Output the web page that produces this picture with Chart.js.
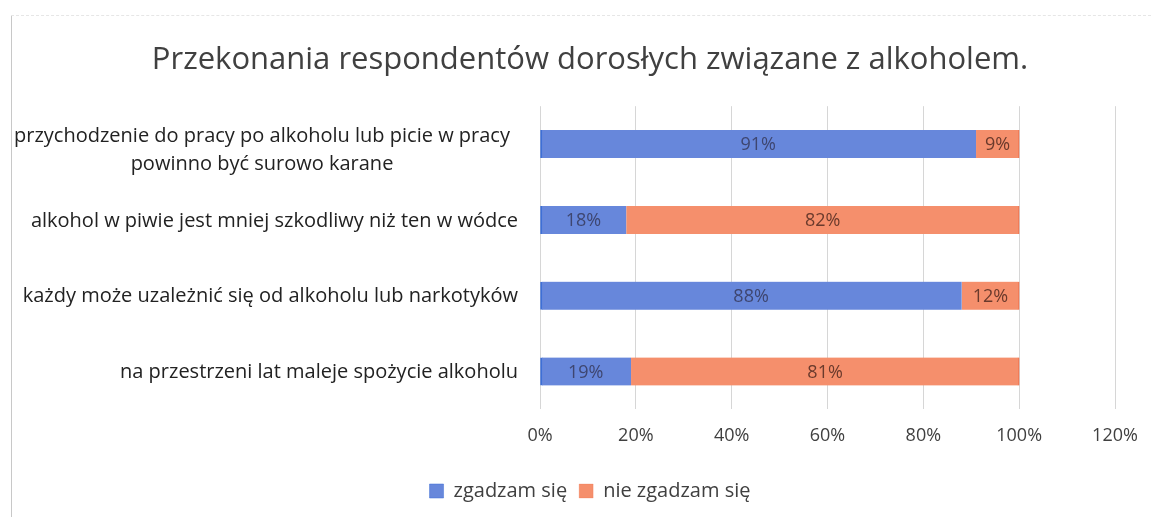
<!DOCTYPE html>
<html><head><meta charset="utf-8">
<script src="https://cdn.jsdelivr.net/npm/chart.js@4.4.1/dist/chart.umd.min.js"></script>
<style>
html,body{margin:0;padding:0;background:#fff;overflow:hidden;width:1158px;height:517px;}
#wrap{position:absolute;left:0;top:0;width:1180px;height:517px;}
#frame{position:absolute;left:11px;top:15px;width:1px;height:502px;background:#c8c8c8;}
#ftop{position:absolute;left:11px;top:15px;width:1140px;height:0;border-top:1px dashed #e6e6e6;}
</style></head>
<body>
<div id="wrap"><canvas id="c" width="1180" height="517"></canvas></div>
<div id="frame"></div><div id="ftop"></div>
<script>
const categories = [
  ['przychodzenie do pracy po alkoholu lub picie w pracy', 'powinno być surowo karane'],
  'alkohol w piwie jest mniej szkodliwy niż ten w wódce',
  'każdy może uzależnić się od alkoholu lub narkotyków',
  'na przestrzeni lat maleje spożycie alkoholu'
];
const agree = [91, 18, 88, 19];
const disagree = [9, 82, 12, 81];
const seriesNames = ['zgadzam się', 'nie zgadzam się'];
const xTicks = [0, 20, 40, 60, 80, 100, 120];
const titleText = 'Przekonania respondentów dorosłych związane z alkoholem.';

const FONT = '"Open Sans", Lato, sans-serif';

const labelPlugin = {
  id: 'labels',
  afterDatasetsDraw(chart) {
    const ctx = chart.ctx;
    ctx.save();
    ctx.font = '18px ' + FONT;
    ctx.textAlign = 'center';
    ctx.textBaseline = 'middle';
    chart.data.datasets.forEach((ds, di) => {
      const meta = chart.getDatasetMeta(di);
      meta.data.forEach((bar, i) => {
        const x = (bar.x + bar.base) / 2;
        ctx.fillStyle = di === 0 ? '#3e4670' : '#6a3a2c';
        ctx.fillText(ds.data[i] + '%', x, bar.y + 1);
      });
    });
    // category labels
    const ys = chart.scales.y;
    ctx.fillStyle = '#222222';
    ctx.font = '20px ' + FONT;
    categories.forEach((lab, i) => {
      const y = ys.getPixelForTick(i);
      if (Array.isArray(lab)) {
        ctx.textAlign = 'center';
        ctx.fillText(lab[0], 262, y - 8);
        ctx.fillText(lab[1], 262, y + 20);
      } else {
        ctx.textAlign = 'right';
        ctx.fillText(lab, 518, y + 1);
      }
    });
    ctx.restore();
  }
};

new Chart(document.getElementById('c'), {
  type: 'bar',
  data: {
    labels: categories,
    datasets: [
      { label: seriesNames[0], data: agree, backgroundColor: '#6787db', borderColor: '#3e6fd6', borderWidth: {left: 2, right: 0, top: 0, bottom: 0}, borderSkipped: false, barThickness: 28 },
      { label: seriesNames[1], data: disagree, backgroundColor: '#f58f6c', borderColor: '#ee6a45', borderWidth: {left: 0, right: 1, top: 0, bottom: 0}, borderSkipped: false, barThickness: 28 }
    ]
  },
  options: {
    indexAxis: 'y',
    responsive: false,
    animation: false,
    layout: { padding: { left: 65, right: 65, top: 0, bottom: 6 } },
    plugins: {
      title: { display: true, text: titleText, color: '#404040', font: { family: FONT, size: 31, weight: 'normal' }, padding: { top: 42, bottom: 27 } },
      legend: { position: 'bottom', labels: { boxWidth: 14, boxHeight: 14, color: '#404040', font: { family: FONT, size: 20 }, padding: 12 } },
      tooltip: { enabled: false }
    },
    scales: {
      x: {
        stacked: true, min: 0, max: 120,
        afterBuildTicks: (s) => { s.ticks = xTicks.map(v => ({ value: v })); },
        afterFit: (s) => { s.height += 6; },
        grid: { color: '#d6d6d6', drawTicks: false },
        border: { display: false },
        ticks: { color: '#404040', font: { family: FONT, size: 18 }, padding: 16, callback: (v) => v + '%' }
      },
      y: {
        stacked: true,
        grid: { display: false },
        border: { display: false },
        ticks: { display: false },
        afterFit: (s) => { s.width = 475; }
      }
    }
  },
  plugins: [labelPlugin]
});
</script>
</body></html>
